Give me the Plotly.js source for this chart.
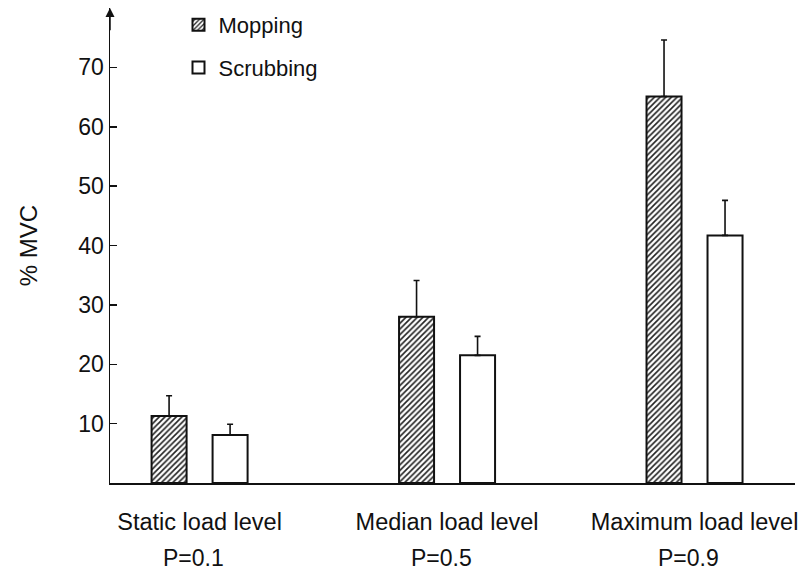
<!DOCTYPE html>
<html>
<head>
<meta charset="utf-8">
<script src="https://cdn.plot.ly/plotly-3.0.1.min.js"></script>
<style>html,body{margin:0;padding:0;background:#fff;}#chart{width:806px;height:577px;}</style>
</head>
<body>
<div id="chart"></div>
<script>
const categories = ["Static load level", "Median load level", "Maximum load level"];
const pLabels = ["P=0.1", "P=0.5", "P=0.9"];
const mopping = [11.3, 28.0, 65.1];
const moppingErr = [3.4, 6.1, 9.5];
const scrubbing = [8.1, 21.5, 41.7];
const scrubbingErr = [1.8, 3.2, 5.9];
const yTicks = [10, 20, 30, 40, 50, 60, 70];
const seriesNames = ["Mopping", "Scrubbing"];

const FONT = "Liberation Sans, Arial, Helvetica, sans-serif";
const zeros = categories.map(() => 0);

const traces = [
  {
    type: "bar", name: seriesNames[0], legendgroup: "a",
    x: categories, y: mopping,
    marker: {
      color: "#ffffff",
      line: {color: "#111", width: 2},
      pattern: {shape: "/", fgcolor: "#222", bgcolor: "#ffffff", size: 4, solidity: 0.4}
    },
    error_y: {type: "data", symmetric: false, array: moppingErr, arrayminus: zeros,
              color: "#111", thickness: 1.6, width: 3}
  },
  {
    type: "bar", name: seriesNames[1], legendgroup: "b",
    x: categories, y: scrubbing,
    marker: {color: "#ffffff", line: {color: "#111", width: 2}},
    error_y: {type: "data", symmetric: false, array: scrubbingErr, arrayminus: zeros,
              color: "#111", thickness: 1.6, width: 3}
  }
];

const xMin = -0.362, xMax = 2.406, yMax = 80;

const annotations = pLabels.map((t, i) => ({
  x: i, xref: "x", y: -0.158, yref: "paper", text: t, showarrow: false,
  xshift: -6, yanchor: "middle", xanchor: "center",
  font: {family: FONT, size: 23, color: "#111"}
}));
annotations.push({
  x: xMin, y: yMax, xref: "x", yref: "y", ax: xMin, ay: yMax - 4, axref: "x", ayref: "y",
  text: "", showarrow: true, arrowhead: 2, arrowsize: 1.2, arrowwidth: 1.5, arrowcolor: "#111", standoff: 0
});

const layout = {
  width: 806, height: 577,
  margin: {l: 110, r: 11, t: 8, b: 94, autoexpand: false},
  paper_bgcolor: "#ffffff", plot_bgcolor: "#ffffff",
  font: {family: FONT, color: "#111", size: 23},
  barmode: "group", bargap: 0.507, bargroupgap: 0.426,
  showlegend: true,
  legend: {
    x: 0.1, y: 0.993, xref: "paper", yref: "container", xanchor: "left", yanchor: "top",
    traceorder: "grouped", tracegroupgap: 11,
    font: {family: FONT, size: 22, color: "#111"},
    bgcolor: "rgba(0,0,0,0)"
  },
  xaxis: {
    type: "category", range: [xMin, xMax],
    showline: true, linecolor: "#111", linewidth: 2,
    showgrid: false, zeroline: false,
    ticks: "outside", ticklen: 17, tickcolor: "rgba(0,0,0,0)",
    tickfont: {family: FONT, size: 23.5, color: "#111"}
  },
  yaxis: {
    range: [0, yMax],
    showline: true, linecolor: "#111", linewidth: 1.5,
    showgrid: false, zeroline: false,
    tickmode: "array", tickvals: yTicks, ticktext: yTicks.map(String),
    ticks: "inside", ticklen: 7, tickwidth: 1.5, tickcolor: "#111",
    tickfont: {family: FONT, size: 23, color: "#111"},
    title: {text: "% MVC", font: {family: FONT, size: 24, color: "#111"}, standoff: 34}
  },
  annotations: annotations
};

Plotly.newPlot("chart", traces, layout, {displayModeBar: false, staticPlot: true});
</script>
</body>
</html>
